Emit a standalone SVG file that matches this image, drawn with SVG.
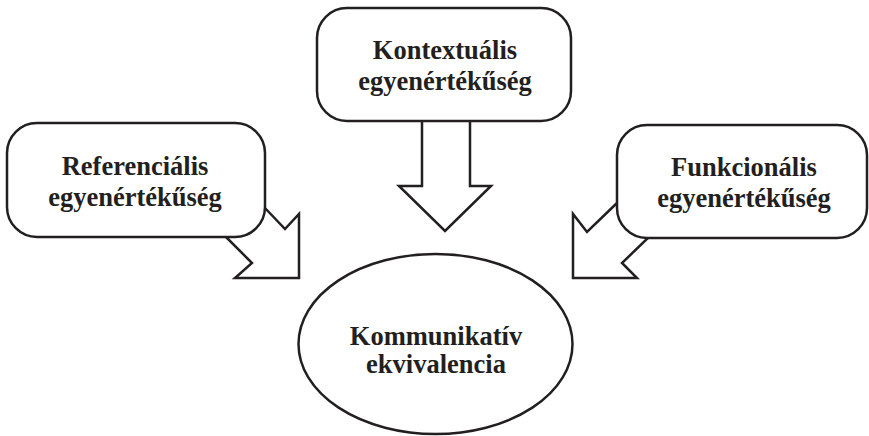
<svg xmlns="http://www.w3.org/2000/svg" width="869" height="436" viewBox="0 0 869 436">
  <style>
    .shape { fill: #ffffff; stroke: #231f20; stroke-width: 2.5; stroke-linejoin: miter; }
    .label { font-family: "Liberation Serif", "Times New Roman", serif; font-weight: bold; font-size: 26.5px; fill: #231f20; text-anchor: middle; }
  </style>
  <rect width="869" height="436" fill="#ffffff"/>

  <!-- block arrows pointing at the central ellipse -->
  <g id="connectors">
    <polygon class="shape" points="264,207 285,229 299,214 299,278 235,278 252,263 227,238"/>
    <polygon class="shape" points="422,110 422,186 399,186 445,231 491,186 470,186 470,110"/>
    <polygon class="shape" points="617,203 587,232 573,214 573,278 637,278 622,263 648,238"/>
  </g>

  <g id="referencialis">
    <rect class="shape" x="7" y="123" width="258" height="114" rx="30" ry="30"/>
    <text class="label" x="135" y="175">Referenciális</text>
    <text class="label" x="135" y="206">egyenértékűség</text>
  </g>

  <g id="kontextualis">
    <rect class="shape" x="317" y="8" width="254" height="113" rx="30" ry="30"/>
    <text class="label" x="445" y="59">Kontextuális</text>
    <text class="label" x="445" y="90">egyenértékűség</text>
  </g>

  <g id="funkcionalis">
    <rect class="shape" x="617" y="125" width="250" height="113" rx="30" ry="30"/>
    <text class="label" x="744" y="176">Funkcionális</text>
    <text class="label" x="744" y="207">egyenértékűség</text>
  </g>

  <g id="kommunikativ">
    <ellipse class="shape" cx="435.5" cy="344" rx="137" ry="90"/>
    <text class="label" x="436" y="345">Kommunikatív</text>
    <text class="label" x="436" y="373">ekvivalencia</text>
  </g>
</svg>
